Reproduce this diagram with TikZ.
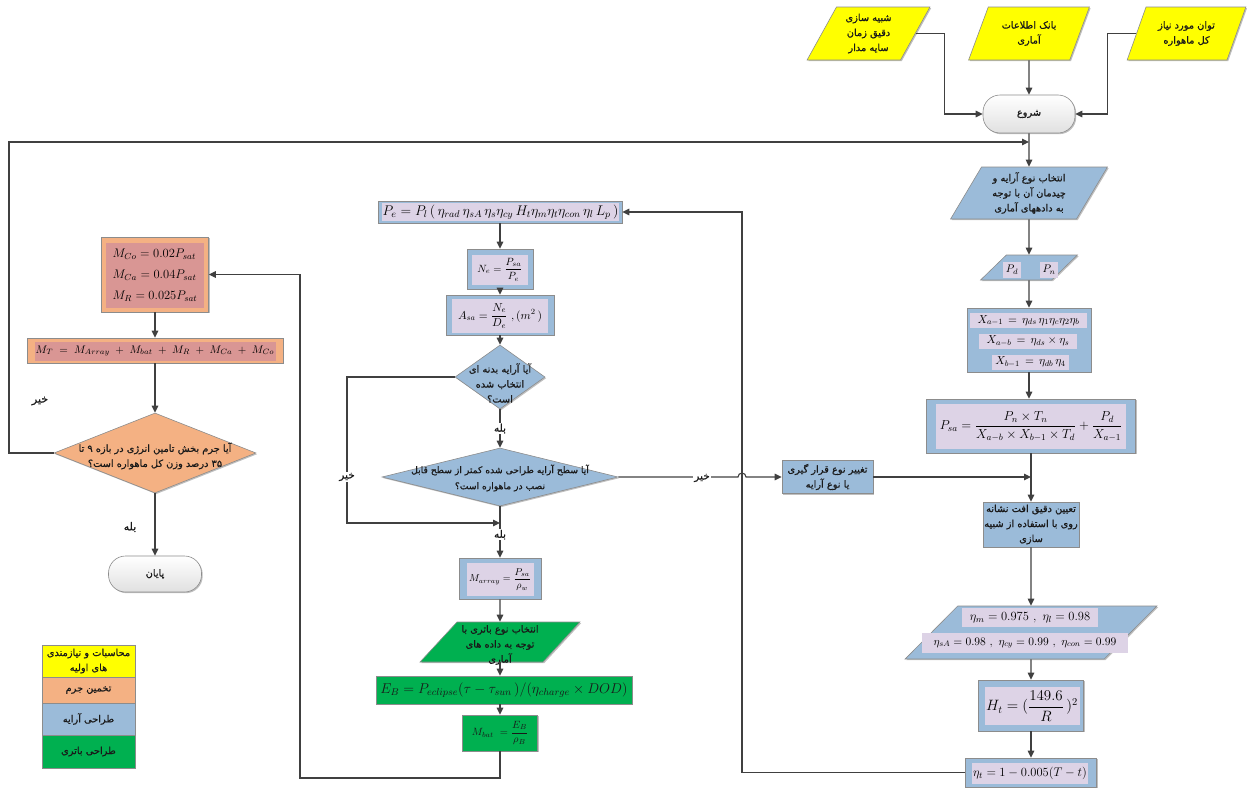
\RequirePackage{fix-cm}
\documentclass[tikz,border=0pt]{standalone}
\usepackage{amsmath}
\usepackage{fontspec}
\usetikzlibrary{shapes.geometric,arrows.meta,shadows,calc}
\TeXXeTstate=1
\newfontfamily\fa[Script=Arabic,FakeBold=0.7]{DejaVu Sans}
\newcommand{\rl}[1]{\beginR #1\endR}
\newcommand{\ph}{\phantom{M}}
\definecolor{yel}{HTML}{FFFF00}
\definecolor{ora}{HTML}{F4B183}
\definecolor{ros}{HTML}{D99694}
\definecolor{blu}{HTML}{9BBBD9}
\definecolor{lav}{HTML}{DDD3E6}
\definecolor{grn}{HTML}{00B050}
\definecolor{lin}{HTML}{404040}
\definecolor{bord}{HTML}{8C8C8C}
\begin{document}
\begin{tikzpicture}[x=1pt,y=-1pt,
  base/.style={draw=bord, line width=0.6pt, inner sep=0pt, align=center, text=black!90,
     font=\fa\fontsize{9.8}{15}\selectfont,
     drop shadow={shadow xshift=1.2pt,shadow yshift=-1.2pt,opacity=.25,fill=black}},
  para/.style={base, trapezium, trapezium stretches=true},
  boxx/.style={base, rectangle},
  term/.style={base, rectangle, rounded corners=17pt, top color=white, bottom color=black!12},
  dia/.style={base, diamond},
  inn/.style={fill=lav, inner sep=0pt, align=center, font=\fontsize{10}{12}\selectfont},
  inr/.style={fill=ros, inner sep=0pt, align=center, font=\fontsize{10}{12}\selectfont},
  txt/.style={align=center, inner sep=0pt, text=black!90, font=\fa\fontsize{9.8}{15}\selectfont},
  lbl/.style={fill=white, inner sep=1pt, text=black!90, font=\fa\fontsize{10.5}{12}\selectfont},
  arr/.style={draw=lin, line width=1.1pt, -{Triangle[length=7pt,width=6.5pt]}},
  ln/.style={draw=lin, line width=1.1pt}]
\useasboundingbox (0,0) rectangle (1247,787);

% ---------- top yellow inputs ----------
\node[para, fill=yel, minimum width=123pt, minimum height=53pt, trapezium left angle=62, trapezium right angle=118] (y1) at (868.5,33.5) {\rl{شبیه سازی}\\\rl{دقیق زمان}\\\rl{سایه مدار}};
\node[para, fill=yel, minimum width=121pt, minimum height=53pt, trapezium left angle=62, trapezium right angle=118] (y2) at (1029,33.5) {\rl{بانک اطلاعات}\\\rl{آماری}};
\node[para, fill=yel, minimum width=119pt, minimum height=53pt, trapezium left angle=62, trapezium right angle=118] (y3) at (1186.5,33.5) {\rl{توان مورد نیاز}\\\rl{کل ماهواره}};
\node[term, minimum width=92pt, minimum height=38pt] (start) at (1029,114) {\rl{شروع}};

% ---------- right column ----------
\node[para, fill=blu, minimum width=157pt, minimum height=52pt, trapezium left angle=60, trapezium right angle=120] (p1) at (1029,193) {\rl{انتخاب نوع آرایه و}\\\rl{چیدمان آن با توجه}\\\rl{به دادههای آماری}};
\node[para, fill=blu, minimum width=97pt, minimum height=25pt, trapezium left angle=56, trapezium right angle=124] (pdpn) at (1029,267.5) {\ph};
\node[inn, minimum width=18pt, minimum height=16pt, font=\fontsize{11}{12}\selectfont] (pd) at (1012,270) {$P_d$};
\node[inn, minimum width=18pt, minimum height=16pt, font=\fontsize{11}{12}\selectfont] (pn) at (1049,270) {$P_n$};

\node[boxx, fill=blu, minimum width=124pt, minimum height=64pt] (X) at (1029,340) {};
\node[inn, minimum width=117pt, minimum height=15pt, font=\fontsize{11.5}{12}\selectfont] (x1) at (1028.5,320.5) {$X_{a-1}\,=\,\eta_{ds}\,\eta_1\eta_c\eta_2\eta_b$};
\node[inn, minimum width=98pt, minimum height=15pt, font=\fontsize{11.5}{12}\selectfont] (x2) at (1028,341) {$X_{a-b}\,=\,\eta_{ds}\times\eta_s$};
\node[inn, minimum width=77pt, minimum height=15pt, font=\fontsize{11.5}{12}\selectfont] (x3) at (1030.5,362) {$X_{b-1}\,=\,\eta_{db}\,\eta_4$};

\node[boxx, fill=blu, minimum width=209pt, minimum height=54pt] (Psa) at (1031,426) {};
\node[inn, minimum width=190pt, minimum height=45pt, font=\fontsize{13}{14}\selectfont] at (1031,426.5) {$P_{sa}=\dfrac{P_n\times T_n}{X_{a-b}\times X_{b-1}\times T_d}+\dfrac{P_d}{X_{a-1}}$};

\node[boxx, fill=blu, minimum width=96pt, minimum height=45pt] (tdq) at (1031,524.5) {\rl{تعیین دقیق افت نشانه}\\\rl{روی با استفاده از شبیه}\\\rl{سازی}};

\node[para, fill=blu, minimum width=252pt, minimum height=53pt, trapezium left angle=67, trapezium right angle=113] (eta) at (1031,632.5) {\ph};
\node[inn, minimum width=136pt, minimum height=19pt, font=\fontsize{12.5}{13}\selectfont] at (1030,617.5) {$\eta_m=0.975\ ,\ \eta_l=0.98$};
\node[inn, minimum width=206pt, minimum height=20pt, font=\fontsize{11.5}{13}\selectfont] at (1025,643) {$\eta_{sA}=0.98\ ,\ \eta_{cy}=0.99\ ,\ \eta_{con}=0.99$};

\node[boxx, fill=blu, minimum width=105pt, minimum height=51pt] (Ht) at (1031,705.5) {};
\node[inn, minimum width=95pt, minimum height=38pt, font=\fontsize{15}{16}\selectfont] at (1032,706) {$H_t=(\dfrac{149.6}{R}\,)^2$};

\node[boxx, fill=blu, minimum width=131pt, minimum height=29pt] (etat) at (1031,772.5) {};
\node[inn, minimum width=116pt, minimum height=21pt, font=\fontsize{12.5}{14}\selectfont] at (1030,773.5) {$\eta_t=1-0.005(T-t)$};

% ---------- middle column ----------
\node[boxx, fill=blu, minimum width=244pt, minimum height=22pt] (Pe) at (500,212) {};
\node[inn, minimum width=237pt, minimum height=18pt, font=\fontsize{14}{14}\selectfont] at (500.5,212) {$P_e=P_l\,(\,\eta_{rad}\,\eta_{sA}\,\eta_s\eta_{cy}\,H_t\eta_m\eta_t\eta_{con}\,\eta_l\,L_p\,)$};

\node[boxx, fill=blu, minimum width=66pt, minimum height=40pt] (Ne) at (500,269) {};
\node[inn, minimum width=56pt, minimum height=30pt, font=\fontsize{10.5}{12}\selectfont] at (500,269.5) {$N_e=\dfrac{P_{sa}}{P_e}$};

\node[boxx, fill=blu, minimum width=108pt, minimum height=40pt] (Asa) at (500,315) {};
\node[inn, minimum width=96pt, minimum height=34pt, font=\fontsize{11.5}{12}\selectfont] at (500,316) {$A_{sa}=\dfrac{N_e}{D_e}\ ,(m^2\,)$};

\node[dia, fill=blu, minimum width=90pt, minimum height=64pt] (d1) at (500,377) {\ph};
\node[txt] at (500,383) {\rl{آیا آرایه بدنه ای}\\\rl{انتخاب شده}\\\rl{است؟}};

\node[dia, fill=blu, minimum width=236pt, minimum height=58pt] (d2) at (500,477) {\ph};
\node[txt, font=\fa\fontsize{9.2}{16}\selectfont] at (500,478) {\rl{آیا سطح آرایه طراحی شده کمتر از سطح قابل}\\\rl{نصب در ماهواره است؟}};

\node[boxx, fill=blu, minimum width=91pt, minimum height=33pt] (chg) at (827.5,477) {\rl{تغییر نوع قرار گیری}\\\rl{یا نوع آرایه}};

\node[boxx, fill=blu, minimum width=82pt, minimum height=41pt] (Marr) at (500,578.5) {};
\node[inn, minimum width=67pt, minimum height=33pt] at (500,579.5) {$M_{array}=\dfrac{P_{sa}}{\rho_w}$};

\node[para, fill=grn, minimum width=160pt, minimum height=40pt, trapezium left angle=63, trapezium right angle=117] (gp) at (500,642) {\ph};
\node[txt, font=\fa\fontsize{9.8}{15}\selectfont] at (500,645) {\rl{انتخاب نوع باتری با}\\\rl{توجه به داده های}\\\rl{آماری}};

\node[boxx, fill=grn, minimum width=256pt, minimum height=28pt, font=\fontsize{14.2}{16}\selectfont] (EB) at (504,690) {$E_B=P_{eclipse}(\tau-\tau_{sun}\,)/(\eta_{charge}\times DOD)$};

\node[boxx, fill=grn, minimum width=75pt, minimum height=36pt, font=\fontsize{10.5}{12}\selectfont] (Mbat) at (500,733) {$M_{bat}\;=\dfrac{E_B}{\rho_B}$};

% ---------- left column ----------
\node[boxx, fill=ora, minimum width=107pt, minimum height=75pt] (Mbox) at (155,274.5) {};
\node[inr, minimum width=98pt, minimum height=65pt, align=left, font=\fontsize{12.5}{21}\selectfont] at (155,275.5) {$M_{Co}=0.02P_{sat}$\\$M_{Ca}=0.04P_{sat}$\\$M_R=0.025P_{sat}$};

\node[boxx, fill=ora, minimum width=256pt, minimum height=25pt] (MT) at (155,350.5) {};
\node[inr, minimum width=241pt, minimum height=19pt, font=\fontsize{11}{12}\selectfont] at (155,351) {$M_T\;=\;M_{Array}\;+\;M_{bat}\;+\;M_R\;+\;M_{Ca}\;+\;M_{Co}$};

\node[dia, fill=ora, minimum width=202pt, minimum height=80pt] (d3) at (155,453) {\ph};
\node[txt, font=\fa\fontsize{9.8}{15}\selectfont] at (155,456) {\rl{آیا جرم بخش تامین انرژی در بازه ۹ تا}\\\rl{\beginL۳۵\endL{} درصد وزن کل ماهواره است؟}};

\node[term, minimum width=93pt, minimum height=36pt] (end) at (155,574) {\rl{پایان}};

% ---------- legend ----------
\node[boxx, fill=yel, minimum width=93pt, minimum height=32pt] (lg1) at (88.5,661) {\rl{محاسبات و نیازمندی}\\\rl{های اولیه}};
\node[boxx, fill=ora, minimum width=93pt, minimum height=26pt] (lg2) at (88.5,690) {\rl{تخمین جرم}};
\node[boxx, fill=blu, minimum width=93pt, minimum height=32pt] (lg3) at (88.5,719) {\rl{طراحی آرایه}};
\node[boxx, fill=grn, minimum width=93pt, minimum height=33pt] (lg4) at (88.5,751.5) {\rl{طراحی باتری}};

% ---------- coordinates ----------
\coordinate (j1) at (1029,142);
\coordinate (lx) at (9,142);
\coordinate (j2) at (1031,477);
\coordinate (c742) at (742,212);
\coordinate (dl1) at (347,523);
\coordinate (j3) at (500,523);
\coordinate (bl) at (300,778);
\coordinate (bt) at (300,274.5);

% ---------- connectors ----------
\draw[arr] (y1.east) -- ++(29,0) |- (start.west);
\draw[arr] (y2.south) -- (start.north);
\draw[arr] (y3.west) -- ++(-29,0) |- (start.east);
\draw[arr] (start.south) -- (p1.north);
\draw[arr] (d3.west) -| (lx) -- (j1);
\draw[arr] (p1.south) -- (pdpn.north);
\draw[arr] (pdpn.south) -- (X.north);
\draw[arr] (X.south) -- (X.south |- Psa.north);
\draw[arr] (Psa.south) -- (tdq.north);
\draw[arr] (chg.east) -- (j2);
\draw[arr] (tdq.south) -- (eta.north);
\draw[arr] (eta.south) -- (Ht.north);
\draw[arr] (Ht.south) -- (etat.north);
\draw[arr] (etat.west) -| (c742) -- (Pe.east);

\draw[arr] (Pe.south) -- (Ne.north);
\draw[arr] (Ne.south) -- (Asa.north);
\draw[arr] (Asa.south) -- (d1.north);
\draw[arr] (d1.south) -- node[lbl, pos=0.5] {\rl{بله}} (d2.north);
\draw[arr] (d1.west) -| (dl1) -- (j3);
\draw[arr] (d2.south) -- node[lbl, pos=0.55] {\rl{بله}} (Marr.north);
\node[lbl] at (347,477) {\rl{خیر}};
\draw[arr] (d2.east) -- (738,477) arc[start angle=180,end angle=360,radius=4] -- (chg.west);
\node[lbl] at (702,478) {\rl{خیر}};
\draw[arr] (Marr.south) -- (gp.north);
\draw[arr] (gp.south) -- (EB.north -| gp.south);
\draw[arr] (EB.south -| Mbat.north) -- (Mbat.north);
\draw[arr] (Mbat.south) |- (bl) -- (bt) -- (Mbox.east);

\draw[arr] (Mbox.south) -- (MT.north);
\draw[arr] (MT.south) -- (d3.north);
\draw[arr] (d3.south) -- (end.north);
\node[txt, font=\fa\fontsize{11}{12}\selectfont] at (40,401) {\rl{خیر}};
\node[txt, font=\fa\fontsize{11}{12}\selectfont] at (130,527) {\rl{بله}};
\end{tikzpicture}
\end{document}
